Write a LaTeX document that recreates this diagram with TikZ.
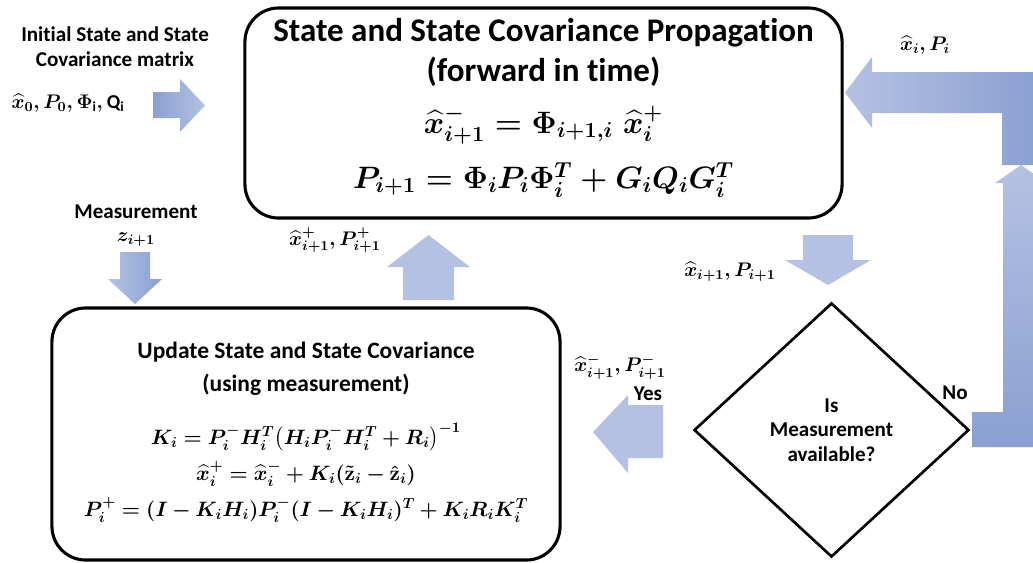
\RequirePackage{fix-cm}
\documentclass[tikz,border=0pt]{standalone}
\usepackage{amsmath}
\usepackage{fontspec}
\setmainfont{Carlito}[Ligatures=NoCommon]
\usepackage{tikz}
\usetikzlibrary{shapes.geometric}
\definecolor{arrowlt}{RGB}{180,193,226}
\definecolor{arrowdk}{RGB}{138,160,210}
\newcommand\tightmu{\medmuskip=3.5mu\thickmuskip=4.5mu\relax}

\begin{document}
\begin{tikzpicture}[x=0.025cm,y=-0.025cm,
    box/.style={draw,line width=2.2pt,rounded corners=24pt},
    decision/.style={diamond,draw,line width=1.9pt,align=center,inner sep=0pt,
      font=\bfseries\fontsize{15}{17.5}\selectfont},
    lbl/.style={font=\bfseries\fontsize{15}{18}\selectfont,align=center,inner sep=0pt},
    ttl/.style={font=\bfseries\fontsize{23.5}{27}\selectfont,inner sep=0pt},
    sub/.style={font=\bfseries\fontsize{16.7}{20}\selectfont,inner sep=0pt},
    eqbig/.style={font=\fontsize{22}{26}\selectfont\boldmath,inner sep=0pt},
    eqmid/.style={font=\fontsize{14.8}{18}\selectfont\boldmath,inner sep=0pt},
    eqsm/.style={font=\fontsize{14}{17}\selectfont\boldmath,inner sep=0pt},
    blk/.style={fill=arrowlt,draw=none}]
  \useasboundingbox (0,0) rectangle (1033,562);
  \clip (0,0) rectangle (1033,562);
  % propagation box
  \node[box,minimum width=14.925cm,minimum height=5.25cm] (prop) at (543.5,113) {};
  \node[ttl] (propttl) at (543.5,33) {State and State Covariance Propagation};
  \node[ttl] (propsub) at (543.5,72) {(forward in time)};
  \node[eqbig] (propx) at (543.5,125) {$\widehat{x}^{-}_{i+1} = \Phi_{i+1,i}\;\widehat{x}^{+}_{i}$};
  \node[eqbig] (propp) at (543.5,180) {$P_{i+1} = \Phi_i P_i \Phi_i^T + G_i Q_i G_i^T$};
  % update box
  \node[box,minimum width=12.7cm,minimum height=6.3cm] (upd) at (306,434) {};
  \node[sub] (updttl) at (306,352) {Update State and State Covariance};
  \node[sub] (updsub) at (306,385) {(using measurement)};
  \node[eqmid] (updk) at (306,437) {$\tightmu K_i = P_i^- H_i^T\bigl(H_i P_i^- H_i^T + R_i\bigr)^{-1}$};
  \node[eqmid] (updx) at (306,474) {$\tightmu \widehat{x}_i^+ = \widehat{x}_i^- + K_i(\tilde{\mathbf{z}}_i - \hat{\mathbf{z}}_i)$};
  \node[eqmid] (updp) at (306,510) {$\tightmu P_i^+ = (I - K_iH_i)P_i^-(I - K_iH_i)^T + K_iR_iK_i^T$};
  % decision
  \node[decision,minimum width=6.875cm,minimum height=6.35cm] (avail) at (831.5,430)
    {Is\\Measurement\\available?};
  % labels
  \node[lbl] (init) at (115,47) {Initial State and State\\Covariance matrix};
  \node[eqsm] (initv) at (68,103) {$\widehat{x}_{0}, P_{0}, \Phi_{\mathrm{i}}, \mathrm{Q}_{\mathrm{i}}$};
  \node[lbl] (meas) at (136,212) {Measurement};
  \node[eqsm] (measz) at (136,240) {$z_{i+1}$};
  \node[eqsm] (plus) at (335,240) {$\widehat{x}^{+}_{i+1}, P^{+}_{i+1}$};
  \node[eqsm] (prior) at (730,272) {$\widehat{x}_{i+1}, P_{i+1}$};
  \node[eqsm] (minus) at (620,367) {$\widehat{x}^{-}_{i+1}, P^{-}_{i+1}$};
  \node[eqsm] (back) at (925,45) {$\widehat{x}_i, P_i$};
  \node[lbl] (yes) at (648,394) {Yes};
  \node[lbl] (no) at (955,393) {No};
  % block arrows
  \shade[left color=arrowdk,right color=arrowlt] (153,92) -- (180,92) -- (180,79) -- (205,105.5)
    -- (180,132) -- (180,118) -- (153,118) -- cycle;
  \shade[left color=arrowlt,right color=arrowdk] (120,252) -- (150,252) -- (150,279) -- (162,279)
    -- (135,304) -- (108,279) -- (120,279) -- cycle;
  \fill[blk] (403,300) -- (403,267) -- (387,267) -- (428.5,235) -- (470,267) -- (454,267)
    -- (454,300) -- cycle;
  \fill[blk] (803,235) -- (853,235) -- (853,260) -- (871,260) -- (828,285) -- (785,260)
    -- (803,260) -- cycle;
  \fill[blk] (663,405) -- (628,405) -- (628,395) -- (593,432) -- (628,473) -- (628,458)
    -- (663,458) -- cycle;
  \shade[top color=arrowlt,bottom color=arrowdk] (972,412) -- (1003,412) -- (1003,183) -- (995,183)
    -- (1021,165) -- (1047,183) -- (1039,183) -- (1039,447) -- (972,447) -- cycle;
  \shade[left color=arrowlt,right color=arrowdk] (1002,165) -- (1002,113) -- (872,113) -- (872,128)
    -- (845,92.5) -- (872,57) -- (872,72) -- (1040,72) -- (1040,165) -- cycle;
\end{tikzpicture}
\end{document}
